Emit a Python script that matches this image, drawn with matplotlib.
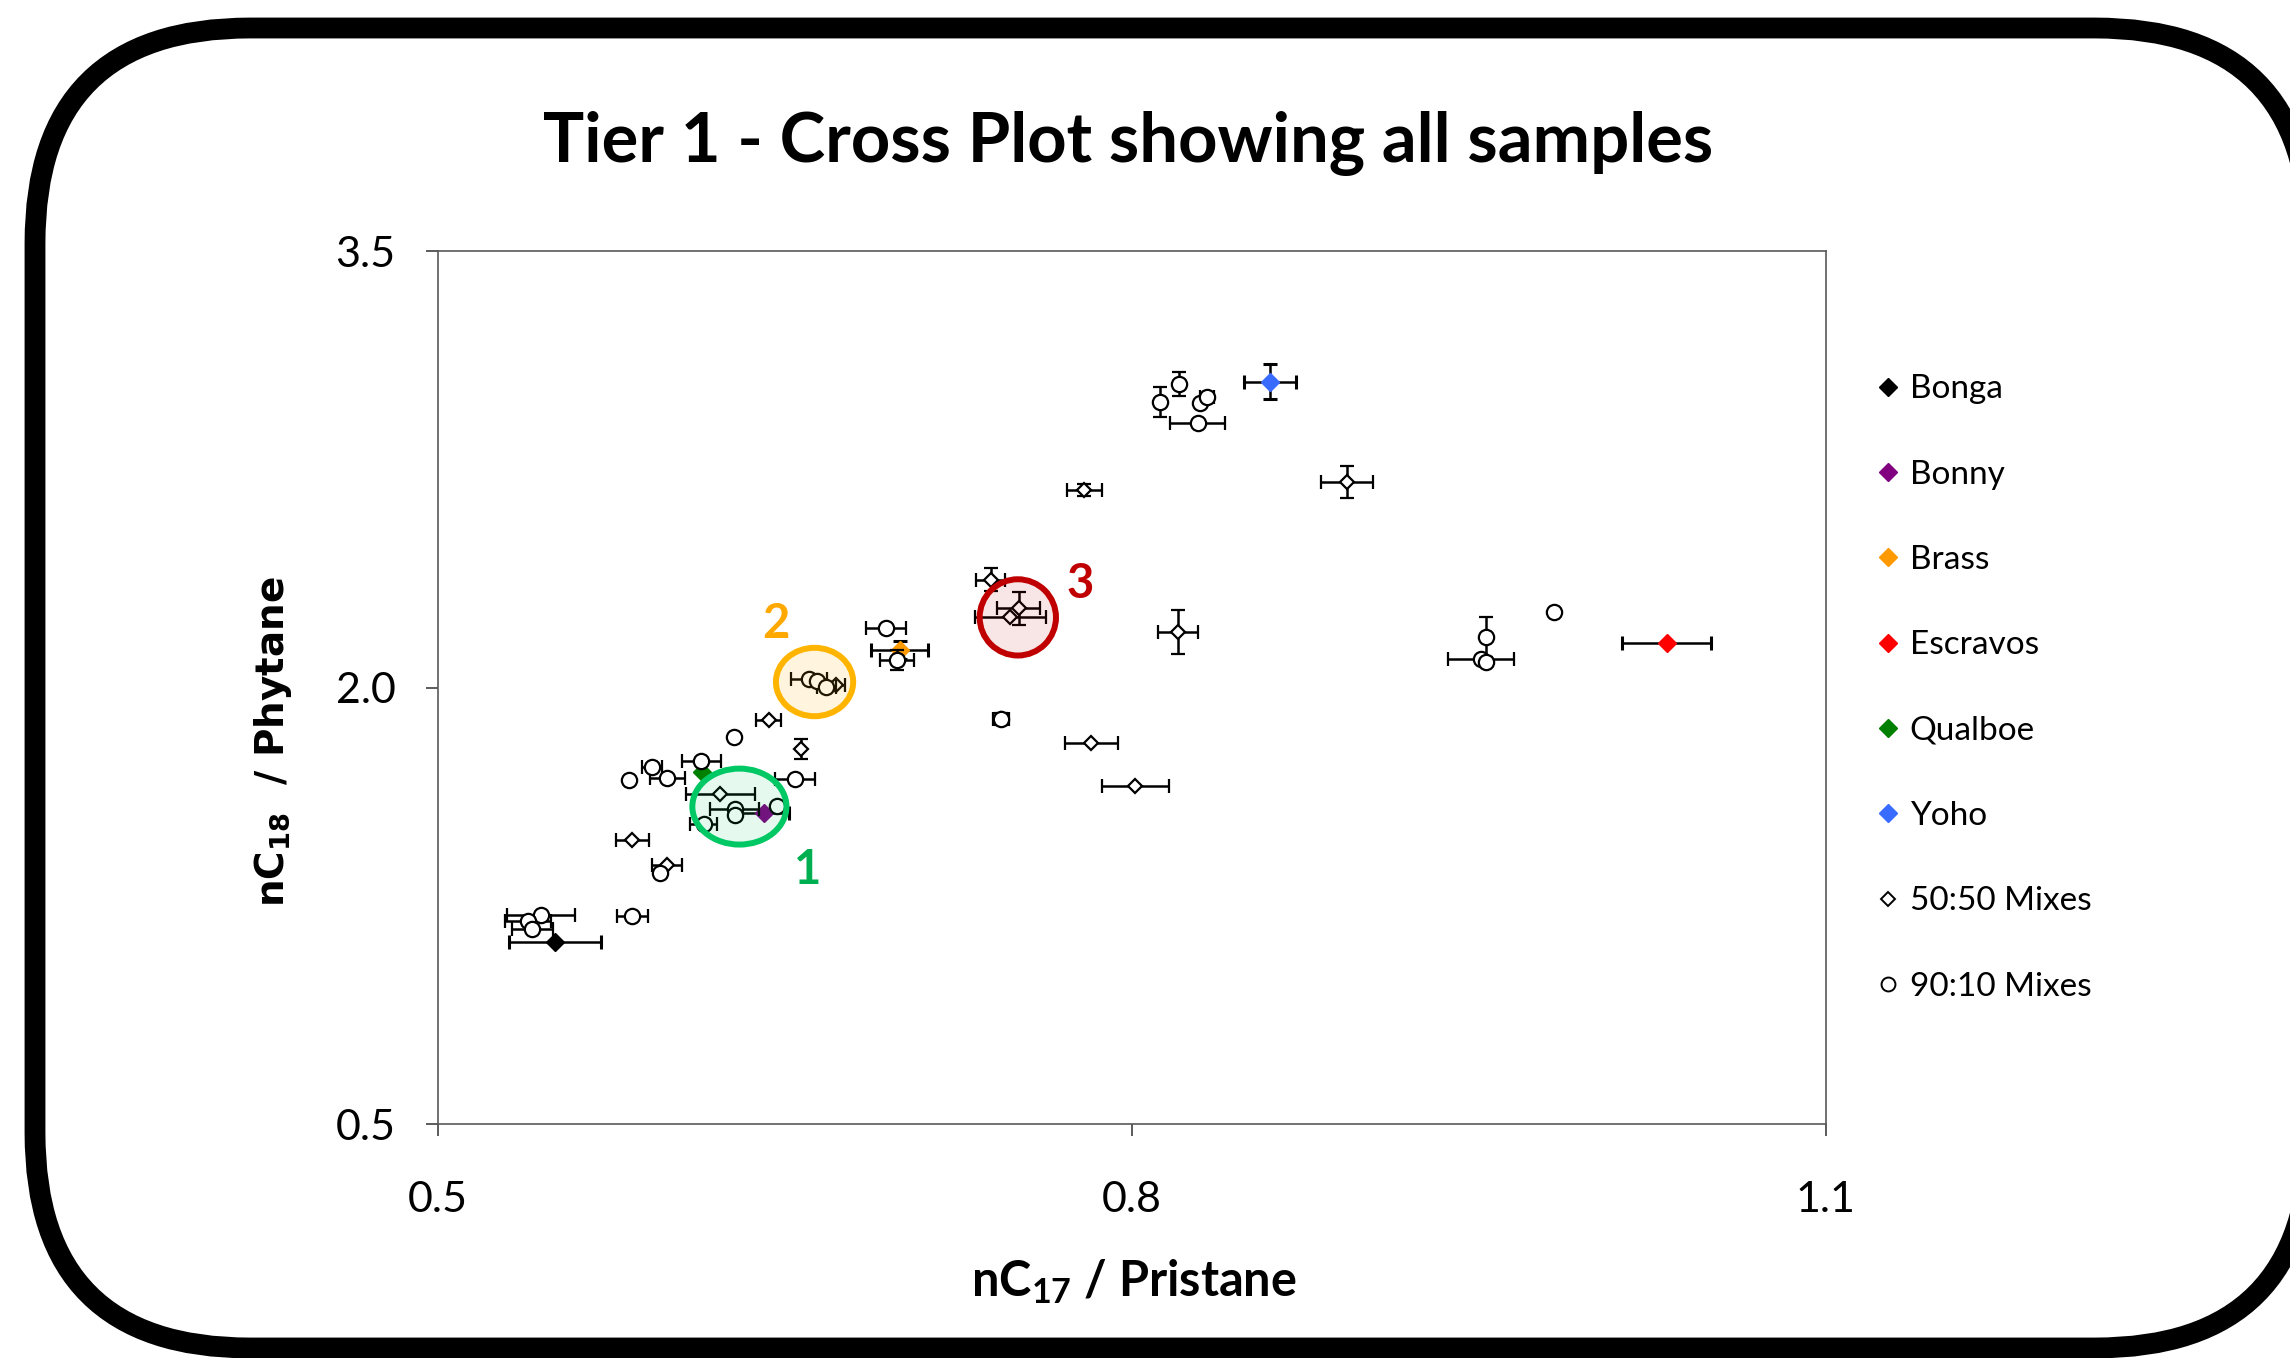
import matplotlib
matplotlib.use('Agg')
import matplotlib.pyplot as plt
from matplotlib.patches import Ellipse, FancyBboxPatch
from matplotlib.lines import Line2D

# --- values (nC17/Pristane, nC18/Phytane) ---
source_names = ['Bonga', 'Bonny', 'Brass', 'Escravos', 'Qualboe', 'Yoho']
source_colors = ['#000000', '#800080', '#ff9900', '#ff0000', '#008000', '#3a6bff']
source_x = [0.5505, 0.6408, 0.6997, 1.0313, 0.6140, 0.8598]
source_y = [1.127, 1.569, 2.130, 2.155, 1.712, 3.052]
source_xerr = [0.020, 0.011, 0.0123, 0.0193, 0.0, 0.0113]
source_yerr = [0.0, 0.0, 0.03, 0.0, 0.0, 0.060]

mix5050_x = [0.599, 0.643, 0.657, 0.622, 0.584, 0.672, 0.739, 0.751,
             0.7475, 0.820, 0.7434, 0.7825, 0.7795, 0.8929, 0.8015]
mix5050_y = [1.391, 1.890, 1.789, 1.634, 1.477, 2.010, 2.371, 2.273,
             2.242, 2.191, 1.893, 1.812, 2.680, 2.708, 1.664]
mix5050_xerr = [0.0065, 0.0055, 0.0, 0.015, 0.0072, 0.004, 0.0063, 0.0094,
                0.0154, 0.0085, 0.0035, 0.0115, 0.0074, 0.0112, 0.0145]
mix5050_yerr = [0.0, 0.0, 0.034, 0.0, 0.0, 0.0, 0.040, 0.056,
                0.0, 0.076, 0.02, 0.0, 0.02, 0.055, 0.0]

mix9010_x = [0.596, 0.5445, 0.539, 0.5408, 0.584, 0.628, 0.6138, 0.5924,
             0.5992, 0.5827, 0.6544, 0.6282, 0.6282, 0.6465, 0.6148, 0.6602,
             0.6638, 0.6679, 0.6937, 0.6984, 0.7434, 0.8203, 0.8120, 0.8294,
             0.8326, 0.8285, 0.9826, 0.9533, 0.9511, 0.9530]
mix9010_y = [1.365, 1.220, 1.199, 1.172, 1.216, 1.832, 1.749, 1.729,
             1.691, 1.684, 1.687, 1.583, 1.564, 1.594, 1.531, 2.030,
             2.022, 2.004, 2.205, 2.096, 1.893, 3.044, 2.983, 2.977,
             3.000, 2.909, 2.259, 2.176, 2.099, 2.088]
mix9010_xerr = [0.0, 0.0149, 0.010, 0.0088, 0.0068, 0.0, 0.0084, 0.0043,
                0.0076, 0.0, 0.0087, 0.0104, 0.0, 0.0, 0.006, 0.0078,
                0.0, 0.004, 0.0086, 0.0074, 0.0, 0.0, 0.0, 0.0,
                0.003, 0.012, 0.0, 0.0, 0.0143, 0.0]
mix9010_yerr = [0.0, 0.0, 0.0, 0.0, 0.0, 0.0, 0.0, 0.0,
                0.0, 0.0, 0.0, 0.0, 0.0, 0.0, 0.0, 0.0,
                0.0, 0.0, 0.0, 0.035, 0.0, 0.040, 0.052, 0.0,
                0.0, 0.0, 0.0, 0.069, 0.0, 0.0]

# highlighted groups: label, centre, width, height, edge colour, fill, label position
groups = [
    ('1', 0.6303, 1.592, 0.0407, 0.261, '#00c864', (0.0, 0.78, 0.39, 0.10), 0.660, 1.373, '#00b050'),
    ('2', 0.6628, 2.020, 0.0334, 0.235, '#ffb400', (1.0, 0.70, 0.0, 0.13), 0.646, 2.221, '#ffa800'),
    ('3', 0.7507, 2.242, 0.0330, 0.262, '#c00000', (0.75, 0.0, 0.0, 0.10), 0.7775, 2.356, '#c00000'),
]

plt.rcParams['font.family'] = ['Lato', 'DejaVu Sans']
plt.rcParams['mathtext.default'] = 'regular'

fig = plt.figure(figsize=(22.9, 13.58), dpi=100)

# rounded black frame round the slide
bg = fig.add_axes([0, 0, 1, 1])
bg.set_xlim(0, 2290)
bg.set_ylim(1358, 0)
bg.axis('off')
bg.add_patch(FancyBboxPatch((35, 28), 2275, 1320,
                            boxstyle='round,pad=0,rounding_size=215',
                            lw=15, ec='black', fc='white', clip_on=False))

ax = fig.add_axes([0.1913, 0.172, 0.6059, 0.643])
err_kw = dict(ecolor='black', elinewidth=1.8, capsize=5, capthick=2.2)

for name, c, x, y, xe, ye in zip(source_names, source_colors, source_x, source_y,
                                 source_xerr, source_yerr):
    ax.errorbar(x, y, xerr=xe, yerr=ye, fmt='D', ms=9.5, mfc=c, mec=c,
                zorder=3, **err_kw)

ax.errorbar(mix5050_x, mix5050_y, xerr=mix5050_xerr, yerr=mix5050_yerr, fmt='D',
            ms=7.5, mfc='white', mec='black', mew=1.6, zorder=4, **err_kw)
ax.errorbar(mix9010_x, mix9010_y, xerr=mix9010_xerr, yerr=mix9010_yerr, fmt='o',
            ms=11, mfc='white', mec='black', mew=1.6, zorder=5, **err_kw)

for lab, cx, cy, w, h, ec, fc, lx, ly, tc in groups:
    ax.add_patch(Ellipse((cx, cy), w, h, ec=ec, fc=fc, lw=4.3, zorder=6))
    ax.text(lx, ly, lab, color=tc, fontsize=34, fontweight='bold',
            ha='center', va='center', zorder=7)

ax.set_xlim(0.5, 1.1)
ax.set_ylim(0.5, 3.5)
ax.set_xticks([0.5, 0.8, 1.1])
ax.set_yticks([0.5, 2.0, 3.5])
ax.xaxis.set_major_formatter('{x:.1f}')
ax.yaxis.set_major_formatter('{x:.1f}')
ax.tick_params(axis='both', direction='out', length=8.5, width=1.2,
               labelsize=31, colors='#404040', labelcolor='black')
ax.tick_params(axis='x', pad=32)
ax.tick_params(axis='y', pad=22)
for sp in ax.spines.values():
    sp.set_color('#595959')
    sp.set_linewidth(1.2)

fig.text(0.4926, 0.8945, 'Tier 1 - Cross Plot showing all samples',
         ha='center', va='center', fontsize=49.5, fontweight='bold')
fig.text(0.4949, 0.056, r'nC$_{17}$ / Pristane', ha='center', va='center',
         fontsize=35, fontweight='bold')
fig.text(0.119, 0.4538, r'nC$_{18}$  / Phytane', ha='center', va='center',
         rotation=90, fontsize=28, fontweight='bold', family='DejaVu Sans')

handles = [Line2D([], [], ls='none', marker='D', ms=9, mfc=c, mec=c)
           for c in source_colors]
handles += [Line2D([], [], ls='none', marker='D', ms=7, mfc='white', mec='black', mew=1.4),
            Line2D([], [], ls='none', marker='o', ms=10, mfc='white', mec='black', mew=1.4)]
labels = source_names + ['50:50 Mixes', '90:10 Mixes']
fig.legend(handles, labels, loc='upper left', bbox_to_anchor=(0.8201, 0.7243),
           frameon=False, fontsize=24, handlelength=0.6, handletextpad=0.35,
           labelspacing=1.66, borderaxespad=0, borderpad=0)

fig.savefig('out.png', dpi=100, facecolor='white')
